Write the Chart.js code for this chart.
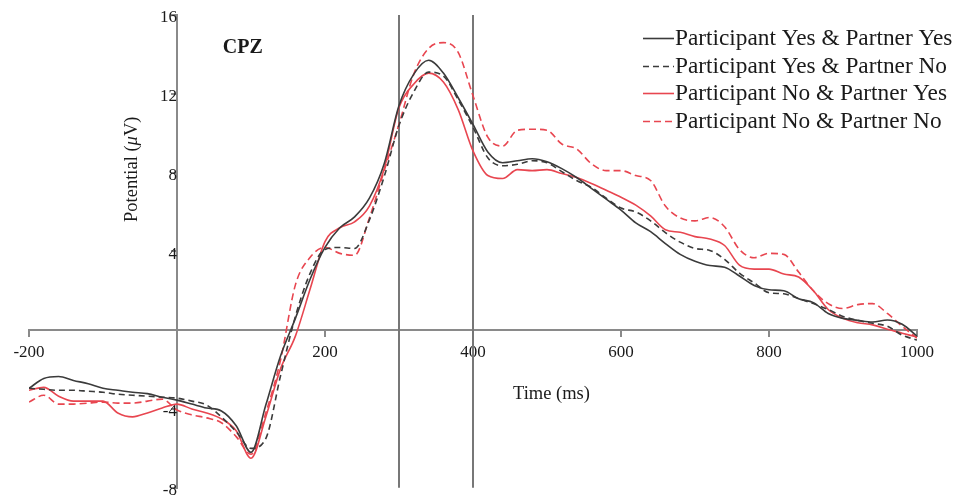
<!DOCTYPE html>
<html>
<head>
<meta charset="utf-8">
<script src="https://cdn.jsdelivr.net/npm/chart.js@4.4.0/dist/chart.umd.min.js"></script>
<style>
    html, body { margin: 0; padding: 0; background: #fff; }
    #wrap { width: 957px; height: 502px; position: relative; }
</style>
</head>
<body>
<div id="wrap"><canvas id="erpChart"></canvas></div>
<script>
// ERP at CPZ, time in ms, potential in microvolts
const times = [-200, -180, -160, -140, -120, -100, -80, -60, -40, -20, 0,
    20, 40, 60, 80, 100, 120, 140, 160, 180, 200,
    220, 240, 260, 280, 300, 320, 340, 360, 380, 400,
    420, 440, 460, 480, 500, 520, 540, 560, 580, 600,
    620, 640, 660, 680, 700, 720, 740, 760, 780, 800,
    820, 840, 860, 880, 900, 920, 940, 960, 980, 1000];

const yesYes = [-2.95, -2.45, -2.35, -2.55, -2.72, -2.95, -3.05, -3.15, -3.22, -3.4, -3.55,
    -3.75, -3.95, -4.1, -4.85, -6.2, -3.8, -1.3, 0.6, 2.6, 4.2,
    5.2, 5.75, 6.7, 8.45, 11.4, 13.0, 13.7, 13.05, 11.8, 10.45,
    9.05, 8.5, 8.6, 8.7, 8.55, 8.2, 7.75, 7.2, 6.65, 6.1,
    5.45, 5.0, 4.4, 3.85, 3.5, 3.28, 3.2, 2.75, 2.27, 2.05,
    2.0, 1.6, 1.4, 0.85, 0.6, 0.5, 0.42, 0.52, 0.3, -0.3];

const yesNo = [-2.95, -3.0, -3.05, -3.05, -3.1, -3.15, -3.25, -3.3, -3.35, -3.4, -3.45,
    -3.6, -3.8, -4.4, -5.15, -6.0, -5.5, -2.3, 0.7, 2.9, 4.1,
    4.2, 4.15, 5.6, 7.8, 10.4, 12.1, 13.1, 12.9, 11.7, 10.3,
    8.75, 8.35, 8.42, 8.6, 8.5, 8.05, 7.6, 7.25, 6.7, 6.2,
    6.0, 5.55, 4.95, 4.47, 4.15, 4.05, 3.6, 2.9, 2.4, 1.9,
    1.85, 1.6, 1.35, 1.05, 0.7, 0.5, 0.35, 0.2, -0.25, -0.5];

const noYes = [-3.05, -2.9, -3.35, -3.6, -3.6, -3.6, -4.2, -4.4, -4.2, -3.95, -3.75,
    -4.0, -4.2, -4.5, -5.1, -6.5, -4.4, -1.95, -0.3, 2.1, 4.5,
    5.2, 5.5, 6.3, 8.2, 11.3, 12.5, 13.05, 12.6, 11.2, 9.1,
    7.85, 7.7, 8.15, 8.1, 8.15, 7.95, 7.75, 7.45, 7.1, 6.75,
    6.35, 5.8, 5.1, 4.97, 4.75, 4.63, 4.3, 3.3, 3.1, 3.1,
    2.85, 2.7, 2.0, 1.05, 0.6, 0.38, 0.27, 0.05, -0.15, -0.35];

const noNo = [-3.65, -3.3, -3.75, -3.75, -3.7, -3.65, -3.7, -3.7, -3.6, -3.5, -4.05,
    -4.3, -4.45, -4.7, -5.4, -6.3, -4.2, -1.5, 2.3, 3.7, 4.2,
    3.9, 3.8, 5.7, 8.1, 10.45, 13.0, 14.3, 14.6, 14.1, 11.9,
    9.8, 9.35, 10.15, 10.2, 10.15, 9.45, 9.2, 8.45, 8.1, 8.1,
    7.85, 7.6, 6.3, 5.7, 5.55, 5.72, 5.25, 4.1, 3.68, 3.9,
    3.85, 2.95, 2.0, 1.35, 1.1, 1.3, 1.35, 0.85, 0.2, -0.4];

const seriesLabels = [
    'Participant Yes & Partner Yes',
    'Participant Yes & Partner No',
    'Participant No & Partner Yes',
    'Participant No & Partner No'
];

// time window markers (ms)
const markerTimes = [300, 400];

Chart.defaults.font.family = "'Liberation Serif', 'Times New Roman', serif";
Chart.defaults.color = '#1a1a1a';

const BLACK = '#3b3b3b';
const RED = '#e84650';
const AXIS = '#8a8a8a';

function toPoints(values) {
    return times.map((t, i) => ({ x: t, y: values[i] }));
}

function series(label, values, color, dash) {
    return {
        label: label,
        data: toPoints(values),
        borderColor: color,
        borderWidth: 1.6,
        borderDash: dash,
        pointRadius: 0,
        fill: false,
        cubicInterpolationMode: 'monotone'
    };
}

// vertical markers, axis titles, panel label and legend
const decorations = {
    id: 'decorations',
    beforeDatasetsDraw(chart) {
        const { ctx, chartArea, scales } = chart;
        ctx.save();
        ctx.strokeStyle = '#777';
        ctx.lineWidth = 2;
        markerTimes.forEach(t => {
            const x = Math.round(scales.x.getPixelForValue(t));
            ctx.beginPath();
            ctx.moveTo(x, chartArea.top);
            ctx.lineTo(x, chartArea.bottom);
            ctx.stroke();
        });
        ctx.restore();
    },
    afterDraw(chart) {
        const { ctx, scales } = chart;
        ctx.save();
        ctx.fillStyle = '#1a1a1a';
        ctx.textBaseline = 'middle';

        // x axis title
        ctx.font = "18.5px 'Liberation Serif'";
        ctx.textAlign = 'center';
        ctx.fillText('Time (ms)', scales.x.getPixelForValue(506), scales.y.getPixelForValue(-3.25));

        // y axis title, rotated, with italic mu
        const px = scales.x.getPixelForValue(-60);
        const py = scales.y.getPixelForValue(8.17);
        const parts = [
            ["18.5px 'Liberation Serif'", 'Potential ('],
            ["italic 18.5px 'Liberation Serif'", 'μ'],
            ["18.5px 'Liberation Serif'", 'V)']
        ];
        let total = 0;
        parts.forEach(p => { ctx.font = p[0]; total += ctx.measureText(p[1]).width; });
        ctx.translate(px, py);
        ctx.rotate(-Math.PI / 2);
        ctx.textAlign = 'left';
        let cx = -total / 2;
        parts.forEach(p => {
            ctx.font = p[0];
            ctx.fillText(p[1], cx, 0);
            cx += ctx.measureText(p[1]).width;
        });
        ctx.setTransform(1, 0, 0, 1, 0, 0);

        // panel label
        ctx.font = "bold 20px 'Liberation Serif'";
        ctx.textAlign = 'center';
        ctx.fillText('CPZ', scales.x.getPixelForValue(89), scales.y.getPixelForValue(14.33));

        // legend
        ctx.font = "23.3px 'Liberation Serif'";
        ctx.textAlign = 'left';
        chart.data.datasets.forEach((ds, i) => {
            const y = Math.round(38 + i * 27.7) + 0.5;
            ctx.strokeStyle = ds.borderColor;
            ctx.lineWidth = ds.borderWidth;
            ctx.setLineDash(ds.borderDash || []);
            ctx.beginPath();
            ctx.moveTo(643, y);
            ctx.lineTo(674, y);
            ctx.stroke();
            ctx.setLineDash([]);
            ctx.fillStyle = '#1a1a1a';
            ctx.fillText(ds.label, 675, y);
        });
        ctx.restore();
    }
};

new Chart(document.getElementById('erpChart'), {
    type: 'line',
    data: {
        datasets: [
            series(seriesLabels[0], yesYes, BLACK, []),
            series(seriesLabels[1], yesNo, BLACK, [6, 4]),
            series(seriesLabels[2], noYes, RED, []),
            series(seriesLabels[3], noNo, RED, [7, 4])
        ]
    },
    options: {
        responsive: true,
        maintainAspectRatio: false,
        animation: false,
        layout: {
            padding: { left: 29, right: 40, top: 15, bottom: 12 }
        },
        plugins: {
            legend: { display: false },
            tooltip: { enabled: false }
        },
        scales: {
            x: {
                type: 'linear',
                position: { y: 0 },
                min: -200,
                max: 1000,
                afterFit(scale) { scale.height = 0; },
                border: { display: true, color: AXIS, width: 2 },
                grid: { drawOnChartArea: false, color: AXIS, lineWidth: 2, tickLength: 6 },
                ticks: {
                    stepSize: 200,
                    padding: 6,
                    maxRotation: 0,
                    font: { size: 17 },
                    color: '#1a1a1a',
                    callback: v => (v === 0 ? '' : v)
                }
            },
            y: {
                type: 'linear',
                position: { x: 0 },
                min: -8,
                max: 16,
                afterFit(scale) { scale.width = 0; },
                border: { display: true, color: AXIS, width: 2 },
                grid: { drawOnChartArea: false, color: AXIS, lineWidth: 2, tickLength: 5 },
                ticks: {
                    stepSize: 4,
                    padding: 4,
                    labelOffset: 3,
                    font: { size: 17 },
                    color: '#1a1a1a',
                    callback: v => (v === 0 ? '' : v)
                }
            }
        }
    },
    plugins: [decorations]
});
</script>
</body>
</html>
